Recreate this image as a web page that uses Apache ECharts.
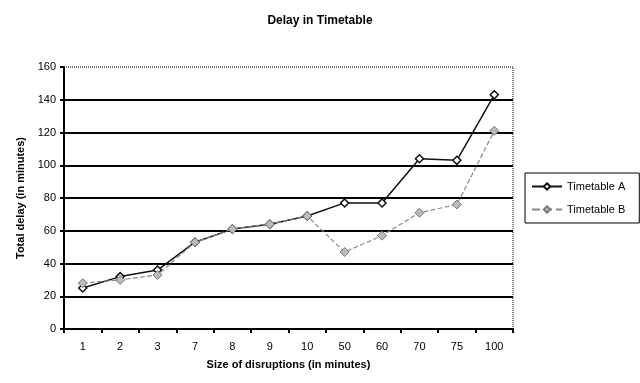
<!DOCTYPE html>
<html lang="en">
<head>
<meta charset="UTF-8">
<title>Delay in Timetable</title>
<script src="https://cdn.jsdelivr.net/npm/echarts@6/dist/echarts.min.js"></script>
<style>
    html, body { margin: 0; padding: 0; background: #fff; }
    #chart { width: 640px; height: 383px; }
</style>
</head>
<body>
<div id="chart"></div>
<script>
    // chart data
    var disruptions = ['1', '2', '3', '7', '8', '9', '10', '50', '60', '70', '75', '100'];
    var timetableA = [25, 32, 36, 53, 61, 64, 69, 77, 77, 104, 103, 143];
    var timetableB = [28, 30, 33, 53, 61, 64, 69, 47, 57, 71, 76, 121];

    var font = 'Liberation Sans, Arial, sans-serif';
    var chart = echarts.init(document.getElementById('chart'));

    var option = {
        animation: false,
        backgroundColor: '#fff',
        textStyle: { fontFamily: font, color: '#000' },
        title: {
            text: 'Delay in Timetable',
            left: 'center',
            top: 10,
            textStyle: { fontSize: 12, fontWeight: 'bold', color: '#000', fontFamily: font }
        },
        legend: {
            orient: 'vertical',
            left: 525,
            top: 173,
            itemWidth: 30,
            itemHeight: 8,
            itemGap: 12,
            padding: [8, 14, 8, 6],
            borderColor: '#000',
            borderWidth: 1,
            textStyle: { fontSize: 11, color: '#000', fontFamily: font },
            data: ['Timetable A', 'Timetable B']
        },
        grid: {
            left: 64,
            right: 127,
            top: 67,
            bottom: 54,
            show: true,
            borderColor: '#000',
            borderWidth: 1,
            borderType: 'dotted'
        },
        xAxis: {
            type: 'category',
            data: disruptions,
            name: 'Size of disruptions (in minutes)',
            nameLocation: 'middle',
            nameGap: 30,
            nameTextStyle: { fontSize: 11, fontWeight: 'bold', color: '#000' },
            axisLine: { lineStyle: { color: '#000', width: 2 } },
            axisTick: { show: true, interval: 0, length: 4, lineStyle: { color: '#000', width: 2 } },
            axisLabel: { fontSize: 11, color: '#000', margin: 12 },
            splitLine: { show: false }
        },
        yAxis: {
            type: 'value',
            min: 0,
            max: 160,
            interval: 20,
            name: 'Total delay (in minutes)',
            nameLocation: 'middle',
            nameGap: 38,
            nameTextStyle: { fontSize: 11, fontWeight: 'bold', color: '#000' },
            axisLine: { show: true, lineStyle: { color: '#000', width: 2 } },
            axisTick: { show: true, length: 4, lineStyle: { color: '#000', width: 2 } },
            axisLabel: { fontSize: 11, color: '#000', margin: 8 },
            splitLine: {
                show: true,
                lineStyle: {
                    color: ['#000', '#000', '#000', '#000', '#000', '#000', '#000', '#000', 'rgba(0,0,0,0)'],
                    width: 2
                }
            }
        },
        series: [
            {
                name: 'Timetable A',
                type: 'line',
                data: timetableA,
                symbol: 'diamond',
                symbolSize: 8,
                lineStyle: { color: '#111', width: 1.5 },
                itemStyle: { color: '#fff', borderColor: '#111', borderWidth: 1.5 },
                z: 3
            },
            {
                name: 'Timetable B',
                type: 'line',
                data: timetableB,
                symbol: 'diamond',
                symbolSize: 9,
                lineStyle: { color: '#888', width: 1.2, type: 'dashed' },
                itemStyle: { color: '#bbb', borderColor: '#777', borderWidth: 1 },
                z: 4
            }
        ]
    };

    chart.setOption(option);
</script>
</body>
</html>
